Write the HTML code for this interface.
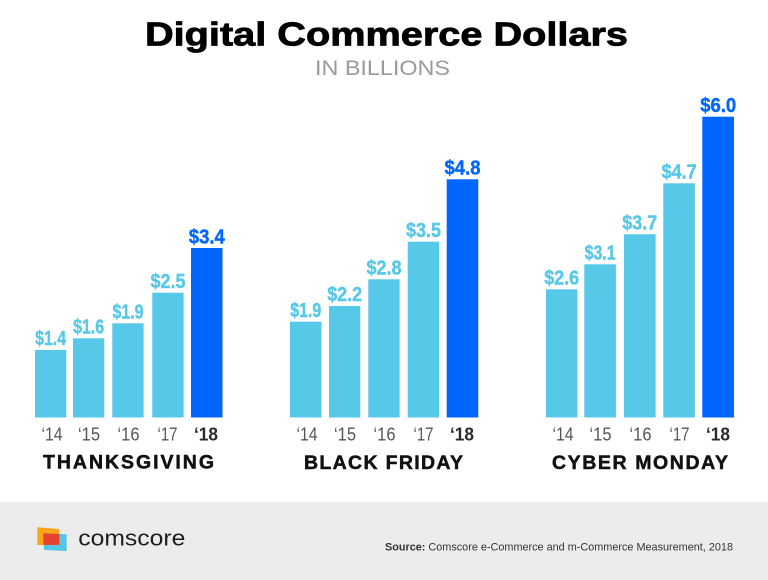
<!DOCTYPE html>
<html>
<head>
<meta charset="utf-8">
<style>
  html,body{margin:0;padding:0;background:#fff;}
  body{width:768px;height:580px;overflow:hidden;}
  svg{display:block;font-family:"Liberation Sans",sans-serif;}
</style>
</head>
<body>
<svg width="768" height="580" viewBox="0 0 768 580" xmlns="http://www.w3.org/2000/svg">
  <rect x="0" y="0" width="768" height="580" fill="#ffffff"/>

  <!-- Title -->
  <text x="145" y="45.7" font-size="33" font-weight="bold" fill="#000" stroke="#000" stroke-width="0.8" textLength="483" lengthAdjust="spacingAndGlyphs">Digital Commerce Dollars</text>
  <text x="315" y="75" font-size="21" fill="#9a9a9a" textLength="135" lengthAdjust="spacingAndGlyphs">IN BILLIONS</text>

  <!-- Thanksgiving bars -->
  <g fill="#56c8e8">
    <rect x="35" y="350" width="31.3" height="67.5"/>
    <rect x="73" y="338.3" width="31.3" height="79.2"/>
    <rect x="112.3" y="323.3" width="31.3" height="94.2"/>
    <rect x="152.3" y="292.7" width="31.3" height="124.8"/>
  </g>
  <rect x="191" y="248" width="31.5" height="169.5" fill="#0066ff"/>

  <!-- Black Friday bars -->
  <g fill="#56c8e8">
    <rect x="290" y="321.7" width="31.5" height="95.8"/>
    <rect x="329" y="306" width="31.3" height="111.5"/>
    <rect x="368.3" y="279.3" width="31.3" height="138.2"/>
    <rect x="407.7" y="241.7" width="31.5" height="175.8"/>
  </g>
  <rect x="446.7" y="179.3" width="31.6" height="238.2" fill="#0066ff"/>

  <!-- Cyber Monday bars -->
  <g fill="#56c8e8">
    <rect x="546" y="289.3" width="31.4" height="128.2"/>
    <rect x="584.3" y="264.3" width="31.6" height="153.2"/>
    <rect x="624" y="234.3" width="31.6" height="183.2"/>
    <rect x="663.3" y="183.3" width="31.6" height="234.2"/>
  </g>
  <rect x="702.3" y="116.7" width="31.7" height="300.8" fill="#0066ff"/>

  <!-- Value labels -->
  <g font-size="20" font-weight="bold" fill="#56c8e8" stroke="#56c8e8" stroke-width="0.4" text-anchor="middle">
    <text x="50.6" y="345.2" textLength="31" lengthAdjust="spacingAndGlyphs">$1.4</text>
    <text x="88.6" y="333.5" textLength="31" lengthAdjust="spacingAndGlyphs">$1.6</text>
    <text x="128" y="318.5" textLength="31" lengthAdjust="spacingAndGlyphs">$1.9</text>
    <text x="168" y="287.9" textLength="35" lengthAdjust="spacingAndGlyphs">$2.5</text>

    <text x="305.8" y="316.9" textLength="31" lengthAdjust="spacingAndGlyphs">$1.9</text>
    <text x="344.7" y="301.2" textLength="35" lengthAdjust="spacingAndGlyphs">$2.2</text>
    <text x="384" y="274.5" textLength="35" lengthAdjust="spacingAndGlyphs">$2.8</text>
    <text x="423.5" y="236.9" textLength="35" lengthAdjust="spacingAndGlyphs">$3.5</text>

    <text x="561.7" y="284.5" textLength="35" lengthAdjust="spacingAndGlyphs">$2.6</text>
    <text x="600.1" y="259.5" textLength="31" lengthAdjust="spacingAndGlyphs">$3.1</text>
    <text x="639.8" y="229.5" textLength="35" lengthAdjust="spacingAndGlyphs">$3.7</text>
    <text x="679.1" y="178.5" textLength="35" lengthAdjust="spacingAndGlyphs">$4.7</text>
  </g>
  <g font-size="20" font-weight="bold" fill="#0066ff" stroke="#0066ff" stroke-width="0.4" text-anchor="middle">
    <text x="206.8" y="243.4" textLength="36" lengthAdjust="spacingAndGlyphs">$3.4</text>
    <text x="462.5" y="174.6" textLength="36" lengthAdjust="spacingAndGlyphs">$4.8</text>
    <text x="718.2" y="112" textLength="36" lengthAdjust="spacingAndGlyphs">$6.0</text>
  </g>

  <!-- Year labels -->
  <g font-size="18" fill="#555" text-anchor="middle">
    <text x="52" y="440.6" textLength="21" lengthAdjust="spacingAndGlyphs">‘14</text>
    <text x="89" y="440.6" textLength="22" lengthAdjust="spacingAndGlyphs">‘15</text>
    <text x="128.5" y="440.6" textLength="22" lengthAdjust="spacingAndGlyphs">‘16</text>
    <text x="167.5" y="440.6" textLength="20" lengthAdjust="spacingAndGlyphs">‘17</text>

    <text x="307" y="440.6" textLength="21" lengthAdjust="spacingAndGlyphs">‘14</text>
    <text x="345" y="440.6" textLength="22" lengthAdjust="spacingAndGlyphs">‘15</text>
    <text x="384.5" y="440.6" textLength="22" lengthAdjust="spacingAndGlyphs">‘16</text>
    <text x="423.5" y="440.6" textLength="20" lengthAdjust="spacingAndGlyphs">‘17</text>

    <text x="563" y="440.6" textLength="21" lengthAdjust="spacingAndGlyphs">‘14</text>
    <text x="600.5" y="440.6" textLength="22" lengthAdjust="spacingAndGlyphs">‘15</text>
    <text x="640.5" y="440.6" textLength="22" lengthAdjust="spacingAndGlyphs">‘16</text>
    <text x="679.5" y="440.6" textLength="20" lengthAdjust="spacingAndGlyphs">‘17</text>
  </g>
  <g font-size="18" font-weight="bold" fill="#2a2a2a" text-anchor="middle">
    <text x="206" y="440.6" textLength="24" lengthAdjust="spacingAndGlyphs">‘18</text>
    <text x="462" y="440.6" textLength="24" lengthAdjust="spacingAndGlyphs">‘18</text>
    <text x="718" y="440.6" textLength="24" lengthAdjust="spacingAndGlyphs">‘18</text>
  </g>

  <!-- Category labels -->
  <g font-size="19.5" font-weight="bold" fill="#111" stroke="#111" stroke-width="0.5">
    <text x="43" y="468.4" textLength="171" lengthAdjust="spacing">THANKSGIVING</text>
    <text x="304" y="468.8" textLength="159" lengthAdjust="spacing">BLACK FRIDAY</text>
    <text x="552" y="468.8" textLength="176" lengthAdjust="spacing">CYBER MONDAY</text>
  </g>

  <!-- Footer -->
  <rect x="0" y="502" width="768" height="78" fill="#ececec"/>
  <polygon points="37.3,527.3 59.3,529 59.3,545 37.3,545" fill="#f9a51a"/>
  <polygon points="43.3,533.3 66.7,534.3 66.7,551 44,550" fill="#52c7e7"/>
  <polygon points="43.3,533.3 59.3,534 59.3,545 43.4,545" fill="#e8412c"/>
  <text x="78.3" y="545.7" font-size="22" fill="#1e1e1e" textLength="107" lengthAdjust="spacingAndGlyphs">comscore</text>

  <text x="385" y="550.7" font-size="11" fill="#333" textLength="348" lengthAdjust="spacingAndGlyphs"><tspan font-weight="bold">Source:</tspan> Comscore e-Commerce and m-Commerce Measurement, 2018</text>
</svg>
</body>
</html>
